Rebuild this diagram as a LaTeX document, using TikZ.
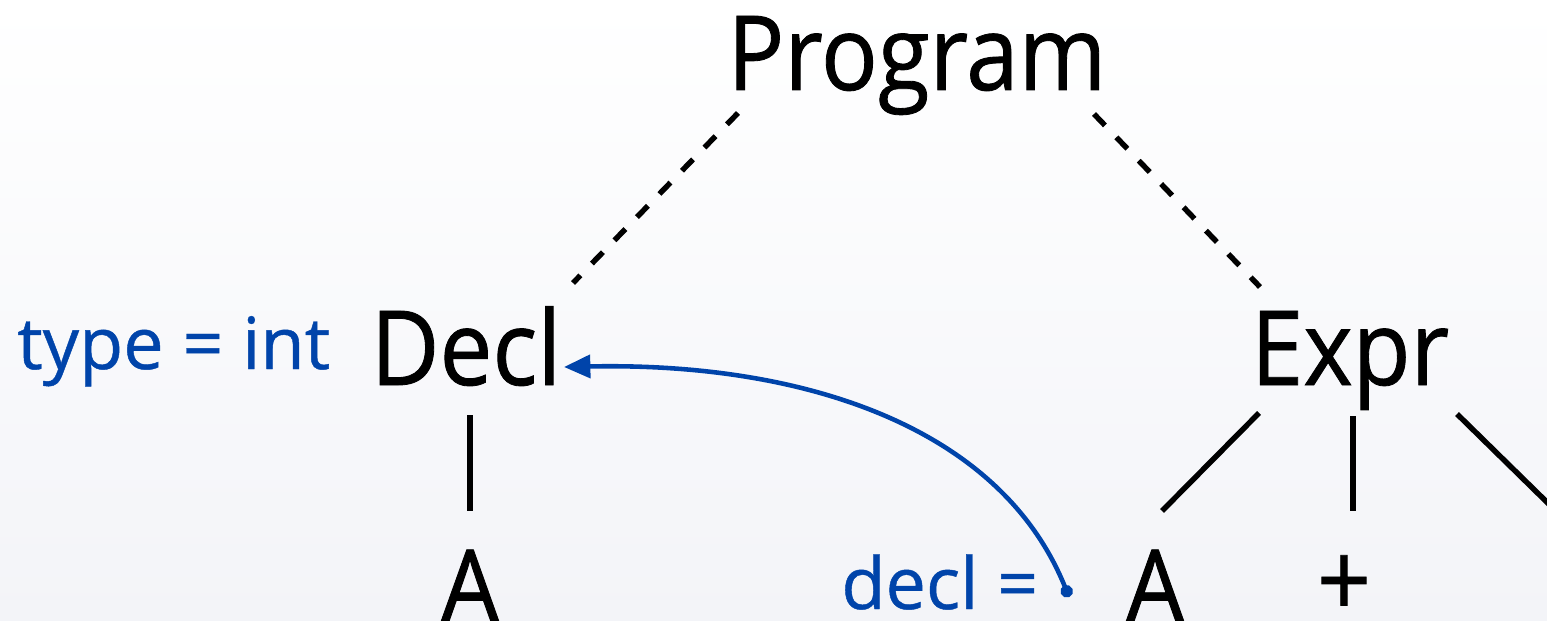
\documentclass[tikz,border=0pt]{standalone}
\usepackage{fontspec}
\setmainfont{Open Sans}[FakeStretch=0.91,FakeBold=0.8]
\newfontfamily\attrfont{Open Sans}[FakeBold=0.6]
\usetikzlibrary{arrows.meta}
\definecolor{attrblue}{RGB}{0,68,170}
\definecolor{bgbot}{RGB}{243,244,248}
\tikzset{
  tree/.style={inner sep=0pt, font=\fontsize{59}{60}\selectfont, text=black},
  attr/.style={inner sep=0pt, font=\attrfont\fontsize{41}{42}\selectfont, text=attrblue},
  dashedge/.style={draw=black, line width=3.1pt, dash pattern=on 9pt off 9.4pt},
  solidedge/.style={draw=black, line width=3.1pt},
  refarrow/.style={draw=attrblue, line width=2.6pt, {Circle[length=7pt]}-{Triangle[length=15pt,width=13pt]}}
}
\begin{document}
\begin{tikzpicture}[x=0.02cm,y=-0.02cm]
\shade[top color=white,bottom color=bgbot] (0,0) rectangle (1547,621);
\useasboundingbox (0,0) rectangle (1547,621);
\clip (0,0) rectangle (1547,621);
% tree nodes
\node[tree, anchor=base] (prog) at (917,90) {Program};
\node[tree, anchor=base] (decl) at (466,385) {Decl};
\node[tree, anchor=base] (expr) at (1350,385) {Expr};
\node[tree, anchor=base] (a1) at (470,624) {A};
\node[tree, anchor=base] (a2) at (1155,624) {A};
\node[tree, anchor=base] (plus) at (1344,617) {+};
\node[tree, anchor=base west] (b) at (1538,624) {B};
% attribute labels
\node[attr, anchor=base west] (typeattr) at (17,369) {type = int};
\node[attr, anchor=base west] (declattr) at (841,609) {decl =};
% connector end points
\coordinate (p1) at (738,113);
\coordinate (d1) at (573,283);
\coordinate (p2) at (1094,114);
\coordinate (e1) at (1260,287);
\coordinate (d2) at (470,415);
\coordinate (a1t) at (470,511);
\coordinate (e2) at (1259,413);
\coordinate (a2t) at (1162,511);
\coordinate (e3) at (1353,416);
\coordinate (plust) at (1353,511);
\coordinate (e4) at (1457,414);
\coordinate (bt) at (1560,515);
\coordinate (ref) at (1069,597);
\coordinate (declin) at (564,367);
% edges
\draw[dashedge] (p1) -- (d1);
\draw[dashedge] (p2) -- (e1);
\draw[solidedge] (d2) -- (a1t);
\draw[solidedge] (e2) -- (a2t);
\draw[solidedge] (e3) -- (plust);
\draw[solidedge] (e4) -- (bt);
% reference arrow
\draw[refarrow] (ref) .. controls (1000,425) and (800,362) .. (declin);
\end{tikzpicture}
\end{document}
